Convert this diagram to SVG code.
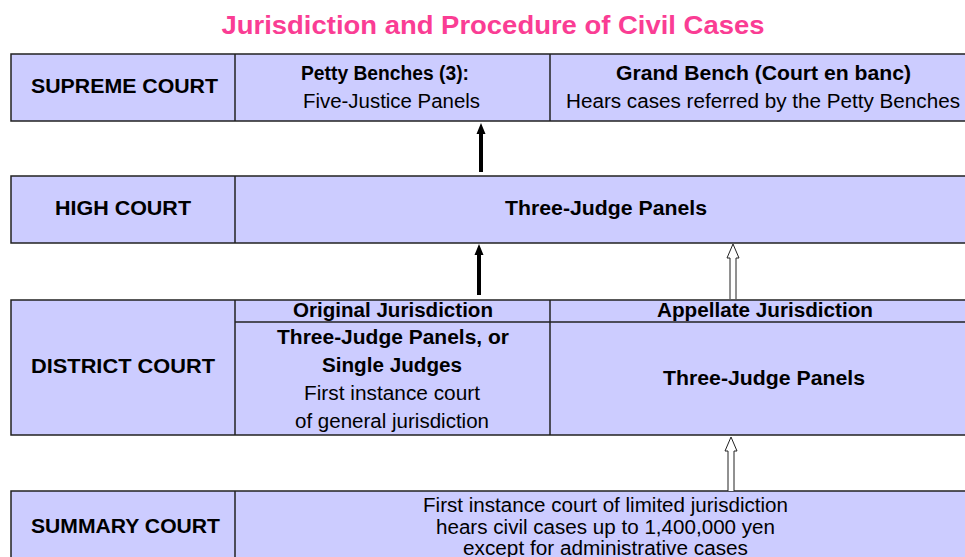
<svg xmlns="http://www.w3.org/2000/svg" width="965" height="557" viewBox="0 0 965 557">
<style>
.cell{fill:#ccccff;stroke:#222;stroke-width:1.5}
.ln{stroke:#222;stroke-width:1.5}
text{font-family:"Liberation Sans",Arial,sans-serif;fill:#000;text-anchor:middle}
.b{font-weight:bold;font-size:19.5px}
.r{font-size:19.5px}
.title{font-weight:bold;font-size:25px;fill:#fa3d94}
</style>
<rect width="965" height="557" fill="#fff"/>
<text class="title" x="493" y="34" textLength="543" lengthAdjust="spacingAndGlyphs">Jurisdiction and Procedure of Civil Cases</text>

<g id="supreme">
<rect class="cell" x="11" y="54" width="966" height="67"/>
<line class="ln" x1="235" y1="54" x2="235" y2="121"/>
<line class="ln" x1="550" y1="54" x2="550" y2="121"/>
<text class="b" x="124.5" y="93" textLength="187" lengthAdjust="spacingAndGlyphs">SUPREME COURT</text>
<text class="b" x="385" y="80" textLength="168" lengthAdjust="spacingAndGlyphs">Petty Benches (3):</text>
<text class="r" x="391.5" y="108" textLength="177" lengthAdjust="spacingAndGlyphs">Five-Justice Panels</text>
<text class="b" x="763.5" y="80" textLength="295" lengthAdjust="spacingAndGlyphs">Grand Bench (Court en banc)</text>
<text class="r" x="763" y="108" textLength="394" lengthAdjust="spacingAndGlyphs">Hears cases referred by the Petty Benches</text>
</g>

<g id="high">
<rect class="cell" x="11" y="176" width="966" height="67"/>
<line class="ln" x1="235" y1="176" x2="235" y2="243"/>
<text class="b" x="123" y="215" textLength="136" lengthAdjust="spacingAndGlyphs">HIGH COURT</text>
<text class="b" x="606" y="215" textLength="202" lengthAdjust="spacingAndGlyphs">Three-Judge Panels</text>
</g>

<g id="district">
<rect class="cell" x="11" y="300" width="966" height="135"/>
<line class="ln" x1="235" y1="300" x2="235" y2="435"/>
<line class="ln" x1="550" y1="300" x2="550" y2="435"/>
<line class="ln" x1="235" y1="322" x2="977" y2="322"/>
<text class="b" x="123" y="373" textLength="184" lengthAdjust="spacingAndGlyphs">DISTRICT COURT</text>
<text class="b" x="393" y="317" textLength="200" lengthAdjust="spacingAndGlyphs">Original Jurisdiction</text>
<text class="b" x="765" y="317" textLength="216" lengthAdjust="spacingAndGlyphs">Appellate Jurisdiction</text>
<text class="b" x="393" y="344" textLength="232" lengthAdjust="spacingAndGlyphs">Three-Judge Panels, or</text>
<text class="b" x="392" y="372" textLength="140" lengthAdjust="spacingAndGlyphs">Single Judges</text>
<text class="r" x="392" y="400" textLength="176" lengthAdjust="spacingAndGlyphs">First instance court</text>
<text class="r" x="392" y="428" textLength="194" lengthAdjust="spacingAndGlyphs">of general jurisdiction</text>
<text class="b" x="764" y="385" textLength="202" lengthAdjust="spacingAndGlyphs">Three-Judge Panels</text>
</g>

<g id="summary">
<rect class="cell" x="11" y="491" width="966" height="80"/>
<line class="ln" x1="235" y1="491" x2="235" y2="571"/>
<text class="b" x="125.5" y="533" textLength="189" lengthAdjust="spacingAndGlyphs">SUMMARY COURT</text>
<text class="r" x="605.5" y="512" textLength="365" lengthAdjust="spacingAndGlyphs">First instance court of limited jurisdiction</text>
<text class="r" x="605.5" y="534" textLength="339" lengthAdjust="spacingAndGlyphs">hears civil cases up to 1,400,000 yen</text>
<text class="r" x="605.5" y="555" textLength="285" lengthAdjust="spacingAndGlyphs">except for administrative cases</text>
</g>

<g id="connectors">
<path d="M479,172 V134 H476.5 L481,123 L485.5,134 H483 V172 z" fill="#000"/>
<path d="M477,295 V255 H474.5 L479,244 L483.5,255 H481 V295 z" fill="#000"/>
<path d="M730,299 V258 H727 L733,244 L739,258 H736 V299" fill="#fff" stroke="#222" stroke-width="1"/>
<path d="M728,491 V451 H725 L731,437 L737,451 H734 V491" fill="#fff" stroke="#222" stroke-width="1"/>
</g>
</svg>
